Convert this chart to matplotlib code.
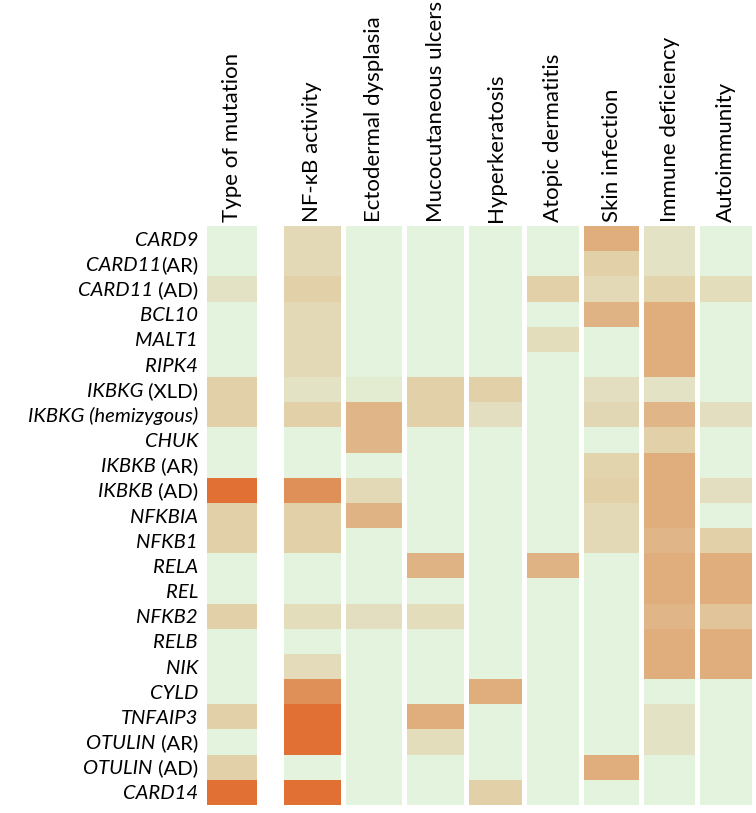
import numpy as np
import matplotlib
matplotlib.use("Agg")
import matplotlib.pyplot as plt
from matplotlib.colors import LinearSegmentedColormap, Normalize
from matplotlib.transforms import offset_copy

plt.rcParams['font.family'] = ['Lato', 'DejaVu Sans']

genes = ['CARD9', 'CARD11', 'CARD11', 'BCL10', 'MALT1', 'RIPK4', 'IKBKG',
         'IKBKG (hemizygous)', 'CHUK', 'IKBKB', 'IKBKB', 'NFKBIA', 'NFKB1',
         'RELA', 'REL', 'NFKB2', 'RELB', 'NIK', 'CYLD', 'TNFAIP3', 'OTULIN',
         'OTULIN', 'CARD14']
suffixes = ['', '(AR)', ' (AD)', '', '', '', ' (XLD)', '', '', ' (AR)', ' (AD)',
            '', '', '', '', '', '', '', '', '', ' (AR)', ' (AD)', '']

columns = ['Type of mutation', 'NF-κB activity', 'Ectodermal dysplasia',
           'Mucocutaneous ulcers', 'Hyperkeratosis', 'Atopic dermatitis',
           'Skin infection', 'Immune deficiency', 'Autoimmunity']

# intensity 0 (none) .. 5 (strong), one list per column, rows in gene order
type_of_mutation = [0, 0, 1, 0, 0, 0, 2, 2, 0, 0, 5, 2, 2, 0, 0, 2, 0, 0, 0, 2, 0, 2, 5]
nfkb_activity    = [1.5, 1.5, 2, 1.5, 1.5, 1.5, 1, 2, 0, 0, 4, 2, 2, 0, 0, 1.3, 0, 1.4, 4, 5, 5, 0, 5]
ectodermal       = [0, 0, 0, 0, 0, 0, 0.5, 3.2, 3.2, 0, 1.5, 3.3, 0, 0, 0, 1.2, 0, 0, 0, 0, 0, 0, 0]
mucocutaneous    = [0, 0, 0, 0, 0, 0, 2, 2, 0, 0, 0, 0, 0, 3.3, 0, 1.3, 0, 0, 0, 3.5, 1.3, 0, 0]
hyperkeratosis   = [0, 0, 0, 0, 0, 0, 2, 1.2, 0, 0, 0, 0, 0, 0, 0, 0, 0, 0, 3.5, 0, 0, 0, 2]
atopic           = [0, 0, 2, 0, 1.3, 0, 0, 0, 0, 0, 0, 0, 0, 3.3, 0, 0, 0, 0, 0, 0, 0, 0, 0]
skin_infection   = [3.5, 2, 1.5, 3.3, 0, 0, 1.2, 1.6, 0, 1.8, 2, 1.5, 1.5, 0, 0, 0, 0, 0, 0, 0, 0, 3.5, 0]
immune_def       = [1, 1, 1.8, 3.5, 3.5, 3.5, 1, 3.2, 2, 3.5, 3.5, 3.5, 3.2, 3.5, 3.5, 3.2, 3.5, 3.5, 0, 1, 1, 0, 0]
autoimmunity     = [0, 0, 1.3, 0, 0, 0, 0, 1.2, 0, 0, 1.2, 0, 2, 3.5, 3.5, 2.5, 3.5, 3.5, 0, 0, 0, 0, 0]

data = [type_of_mutation, nfkb_activity, ectodermal, mucocutaneous, hyperkeratosis,
        atopic, skin_infection, immune_def, autoimmunity]

cmap = LinearSegmentedColormap.from_list('nfkb', [
    (0.0, '#E3F3DE'), (0.2, '#E3E2C4'), (0.4, '#E2D0A8'),
    (0.7, '#E0AE7E'), (0.8, '#DF9058'), (1.0, '#E07033')])
norm = Normalize(0, 5)

# column layout (pixel units across the figure width)
col_left = [207, 284, 346, 407, 469, 527, 584, 644, 700]
col_right = [257, 341, 402, 464, 522, 579, 639, 695, 752]

W, H = 756, 813
fig = plt.figure(figsize=(W / 100, H / 100), dpi=100)
ax = fig.add_axes([0, (H - 805) / H, 1, (805 - 226) / H])
ax.set_xlim(0, W)
ax.set_ylim(len(genes), 0)
ax.axis('off')

rows = np.arange(len(genes) + 1)
for vals, l, r in zip(data, col_left, col_right):
    ax.pcolormesh([l, r], rows, np.array(vals).reshape(-1, 1), cmap=cmap, norm=norm)

for l, r, name in zip(col_left, col_right, columns):
    ax.text((l + r) / 2, -0.17, name, rotation=90, ha='center', va='bottom',
            fontsize=16, color='black')

fs = 14.6
fig.canvas.draw()
renderer = fig.canvas.get_renderer()
for i, (g, s) in enumerate(zip(genes, suffixes)):
    y = i + 0.5 + 0.28
    shift = 0
    if s:
        t = ax.text(198, y, s, ha='right', va='baseline', fontsize=fs)
        shift = t.get_window_extent(renderer).width
    ax.text(198, y, g, ha='right', va='baseline', fontsize=fs, style='italic',
            transform=offset_copy(ax.transData, fig=fig, x=-shift, units='dots'))

fig.savefig('out.png', dpi=100)
